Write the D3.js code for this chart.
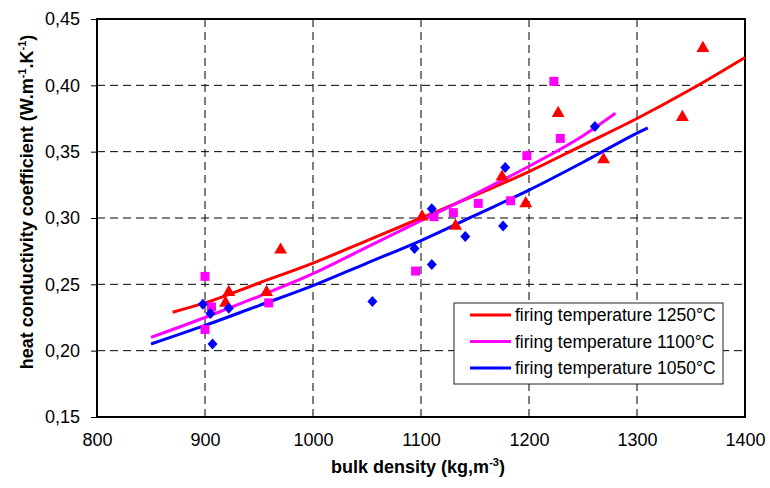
<!DOCTYPE html>
<html>
<head>
<meta charset="utf-8">
<script src="https://cdn.jsdelivr.net/npm/d3@7"></script>
<style>
  html, body { margin: 0; padding: 0; background: #fff; }
  svg { display: block; font-family: "Liberation Sans", Arial, sans-serif; }
</style>
</head>
<body>
<svg id="chart" width="770" height="488"></svg>
<script>
// ---- data ----
const xTicks = [800, 900, 1000, 1100, 1200, 1300, 1400];
const yTicks = [0.15, 0.20, 0.25, 0.30, 0.35, 0.40, 0.45];
const seriesNames = ["firing temperature 1250°C", "firing temperature 1100°C", "firing temperature 1050°C"];

// measured points [bulk density, heat conductivity]
const pts1250 = [[919,0.236],[922,0.244],[957,0.244],[970,0.276],[1101,0.301],[1132,0.294],
                 [1175,0.331],[1197,0.311],[1227,0.379],[1269,0.344],[1342,0.376],[1361,0.428]];
const pts1100 = [[900,0.256],[906,0.233],[900,0.216],[959,0.236],[1095,0.260],[1112,0.301],
                 [1130,0.304],[1153,0.311],[1183,0.313],[1198,0.347],[1223,0.403],[1229,0.360]];
const pts1050 = [[898,0.235],[905,0.228],[922,0.232],[907,0.205],[1055,0.237],[1094,0.277],
                 [1110,0.307],[1110,0.265],[1141,0.286],[1176,0.294],[1178,0.338],[1261,0.369]];

// trend lines
const fit1250 = [[870,0.229],[900,0.236],[950,0.251],[1000,0.266],[1050,0.283],[1100,0.300],
                 [1150,0.317],[1200,0.335],[1250,0.355],[1300,0.375],[1350,0.397],[1400,0.421]];
const fit1100 = [[850,0.210],[900,0.225],[950,0.241],[1000,0.258],[1050,0.278],[1100,0.298],
                 [1150,0.318],[1200,0.339],[1250,0.362],[1280,0.379]];
const fit1050 = [[850,0.205],[900,0.219],[950,0.234],[1000,0.249],[1050,0.266],[1100,0.283],
                 [1150,0.302],[1200,0.321],[1250,0.342],[1300,0.364],[1310,0.368]];

const colors = ["#FF0000", "#FF00FF", "#0000FF"];

// ---- layout ----
const svg = d3.select("#chart");
const L = 97, R = 745, T = 19, B = 417;

const x = d3.scaleLinear().domain([800, 1400]).range([L, R]);
const y = d3.scaleLinear().domain([0.15, 0.45]).range([B, T]);

// grid
const grid = svg.append("g");
grid.selectAll("line.h").data(yTicks.filter(v => v > 0.15 && v < 0.45)).enter().append("line")
  .attr("x1", L).attr("x2", R).attr("y1", d => y(d)).attr("y2", d => y(d))
  .attr("stroke", "#000").attr("stroke-width", 1).attr("stroke-dasharray", "8,5");
grid.selectAll("line.v").data(xTicks.filter(v => v > 800 && v < 1400)).enter().append("line")
  .attr("y1", T).attr("y2", B).attr("x1", d => x(d)).attr("x2", d => x(d))
  .attr("stroke", "#000").attr("stroke-width", 1).attr("stroke-dasharray", "8,5");

// axes
const fmt = d => d3.format(".2f")(d).replace(".", ",");
const yAxis = svg.append("g").attr("transform", `translate(${L},0)`)
  .call(d3.axisLeft(y).tickValues(yTicks).tickFormat(fmt).tickSize(6).tickPadding(11));
yAxis.select(".domain").remove();
yAxis.selectAll("text").attr("font-size", 18).attr("fill", "#000").attr("font-family", "Liberation Sans, Arial, sans-serif");
yAxis.selectAll("line").attr("stroke", "#000");

const xAxis = svg.append("g").attr("transform", `translate(0,${B})`)
  .call(d3.axisBottom(x).tickValues(xTicks).tickFormat(d3.format("d")).tickSize(0).tickPadding(16));
xAxis.select(".domain").remove();
xAxis.selectAll("text").attr("font-size", 18).attr("fill", "#000").attr("font-family", "Liberation Sans, Arial, sans-serif");

// frame
svg.append("rect").attr("x", L).attr("y", T).attr("width", R - L).attr("height", B - T)
  .attr("fill", "none").attr("stroke", "#000").attr("stroke-width", 2);

// lines
const line = d3.line().x(d => x(d[0])).y(d => y(d[1])).curve(d3.curveMonotoneX);
[fit1250, fit1100, fit1050].forEach((f, i) => {
  svg.append("path").datum(f).attr("d", line).attr("fill", "none")
    .attr("stroke", colors[i]).attr("stroke-width", 3).attr("stroke-linejoin", "round");
});

// markers
svg.append("g").selectAll("path").data(pts1250).enter().append("path")
  .attr("d", d3.symbol(d3.symbolTriangle, 72)())
  .attr("transform", d => `translate(${x(d[0])},${y(d[1])})`).attr("fill", colors[0]);
svg.append("g").selectAll("rect").data(pts1100).enter().append("rect")
  .attr("x", d => x(d[0]) - 4.5).attr("y", d => y(d[1]) - 4.5).attr("width", 9).attr("height", 9)
  .attr("fill", colors[1]);
svg.append("g").selectAll("path").data(pts1050).enter().append("path")
  .attr("d", "M0,-5.5L5,0L0,5.5L-5,0Z")
  .attr("transform", d => `translate(${x(d[0])},${y(d[1])})`).attr("fill", colors[2]);

// legend
const lg = svg.append("g");
lg.append("rect").attr("x", 454).attr("y", 303).attr("width", 269).attr("height", 81)
  .attr("fill", "#fff").attr("stroke", "#222").attr("stroke-width", 1);
seriesNames.forEach((n, i) => {
  const yy = 315 + i * 26.5;
  lg.append("line").attr("x1", 470).attr("x2", 511).attr("y1", yy).attr("y2", yy)
    .attr("stroke", colors[i]).attr("stroke-width", 3);
  lg.append("text").attr("x", 515).attr("y", yy + 6).attr("font-size", 17.5).attr("fill", "#000").text(n);
});

// axis titles
const xt = svg.append("text").attr("x", 418).attr("y", 473).attr("text-anchor", "middle")
  .attr("font-size", 18).attr("font-weight", "bold").attr("fill", "#000");
xt.append("tspan").text("bulk density (kg,m");
xt.append("tspan").attr("font-size", 11).attr("dy", -7).text("-3");
xt.append("tspan").attr("dy", 7).text(")");

const yt = svg.append("text").attr("transform", "translate(33,202) rotate(-90)").attr("text-anchor", "middle")
  .attr("font-size", 18).attr("font-weight", "bold").attr("fill", "#000");
yt.append("tspan").text("heat conductivity coefficient (W.m");
yt.append("tspan").attr("font-size", 11).attr("dy", -7).text("-1");
yt.append("tspan").attr("dy", 7).text(".K");
yt.append("tspan").attr("font-size", 11).attr("dy", -7).text("-1");
yt.append("tspan").attr("dy", 7).text(")");
</script>
</body>
</html>
